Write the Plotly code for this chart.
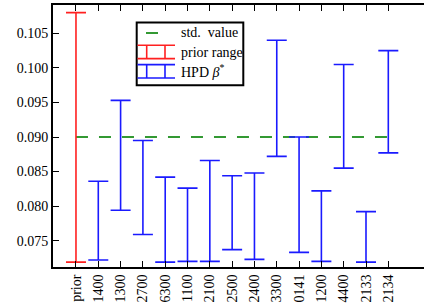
import plotly.graph_objects as go

categories = ["prior", "1400", "1300", "2700", "6300", "1100", "2100", "2500",
              "2400", "3300", "0141", "1200", "4400", "2133", "2134"]
prior_low = 0.0719
prior_high = 0.1080
hpd_low = [0.0722, 0.0794, 0.0759, 0.0719, 0.0720, 0.0720, 0.0737,
           0.0723, 0.0872, 0.0733, 0.0720, 0.0855, 0.0719, 0.0877]
hpd_high = [0.0836, 0.0953, 0.0895, 0.0842, 0.0826, 0.0866, 0.0844,
            0.0848, 0.1040, 0.0900, 0.0822, 0.1005, 0.0792, 0.1025]
std_value = 0.090
y_ticks = [0.075, 0.080, 0.085, 0.090, 0.095, 0.100, 0.105]

FONT = "'Liberation Serif', 'Times New Roman', Times, serif"
W, H = 424, 308
L, R, T, B = 53, 424, 4.7, 266.7

fig = go.Figure()

# std value dashed line
fig.add_trace(go.Scatter(
    x=[0, len(categories) - 1], y=[std_value, std_value], mode="lines",
    line=dict(color="#339933", width=2, dash="12px,11px"),
    showlegend=False, hoverinfo="skip"))

# prior range
fig.add_trace(go.Scatter(
    x=[0], y=[(prior_low + prior_high) / 2], mode="markers",
    marker=dict(size=1, opacity=0),
    error_y=dict(type="data", symmetric=True, array=[(prior_high - prior_low) / 2],
                 color="#ff2020", thickness=1.6, width=10),
    showlegend=False, hoverinfo="skip"))

# HPD intervals
xs = list(range(1, len(categories)))
mids = [(a + b) / 2 for a, b in zip(hpd_low, hpd_high)]
half = [(b - a) / 2 for a, b in zip(hpd_low, hpd_high)]
fig.add_trace(go.Scatter(
    x=xs, y=mids, mode="markers", marker=dict(size=1, opacity=0),
    error_y=dict(type="data", symmetric=True, array=half,
                 color="#1a1aff", thickness=1.6, width=10),
    showlegend=False, hoverinfo="skip"))

def px(x):
    return (x - L) / (R - L)

def py(y):
    return (B - y) / (B - T)

shapes = []
# legend box
shapes.append(dict(type="rect", xref="paper", yref="paper",
                   x0=px(136.7), x1=px(243.3), y0=py(85), y1=py(22.3),
                   line=dict(color="black", width=2), fillcolor="white", layer="above"))
# green dash
shapes.append(dict(type="line", xref="paper", yref="paper",
                   x0=px(146), x1=px(158), y0=py(32.7), y1=py(32.7),
                   line=dict(color="#339933", width=2), layer="above"))
for col, ytop, ybot in [("#ff2020", 45, 58.3), ("#1a1aff", 64.3, 77.7)]:
    for yy in (ytop, ybot):
        shapes.append(dict(type="line", xref="paper", yref="paper",
                           x0=px(137.5), x1=px(175), y0=py(yy), y1=py(yy),
                           line=dict(color=col, width=1.6), layer="above"))
    for xx in (146.7, 165):
        shapes.append(dict(type="line", xref="paper", yref="paper",
                           x0=px(xx), x1=px(xx), y0=py(ytop), y1=py(ybot),
                           line=dict(color=col, width=1.6), layer="above"))

annotations = []
for txt, yy in [("std.&#160;&#160;value", 32.7), ("prior range", 51.7),
                ("HPD <i>β</i><sup>*</sup>", 71.2)]:
    annotations.append(dict(text=txt, xref="paper", yref="paper",
                            x=px(179), y=py(yy), xanchor="left", yanchor="middle",
                            showarrow=False, font=dict(family=FONT, size=14, color="black")))

fig.update_layout(
    width=W, height=H,
    margin=dict(l=L, r=W - R, t=T, b=H - B, pad=0, autoexpand=False),
    plot_bgcolor="white", paper_bgcolor="white",
    shapes=shapes, annotations=annotations,
    font=dict(family=FONT, size=14, color="black"),
    xaxis=dict(range=[-1.03, 15.6], tickmode="array",
               tickvals=list(range(len(categories))), ticktext=categories,
               tickangle=-90, ticks="inside", ticklen=6, tickwidth=1, tickcolor="black",
               showline=True, linecolor="black", linewidth=2, mirror="ticks",
               showgrid=False, zeroline=False, automargin=False,
               tickfont=dict(family=FONT, size=14, color="black")),
    yaxis=dict(range=[0.07119, 0.1091], tickmode="array", tickvals=y_ticks,
               ticktext=[f"{v:.3f}" for v in y_ticks],
               ticks="inside", ticklen=6, tickwidth=1, tickcolor="black",
               showline=True, linecolor="black", linewidth=2,
               showgrid=False, zeroline=False, automargin=False,
               tickfont=dict(family=FONT, size=14, color="black")),
)

fig.write_html("out.html", config={"displayModeBar": False},
               post_script="document.body.style.margin='0';document.body.style.overflow='hidden';")
